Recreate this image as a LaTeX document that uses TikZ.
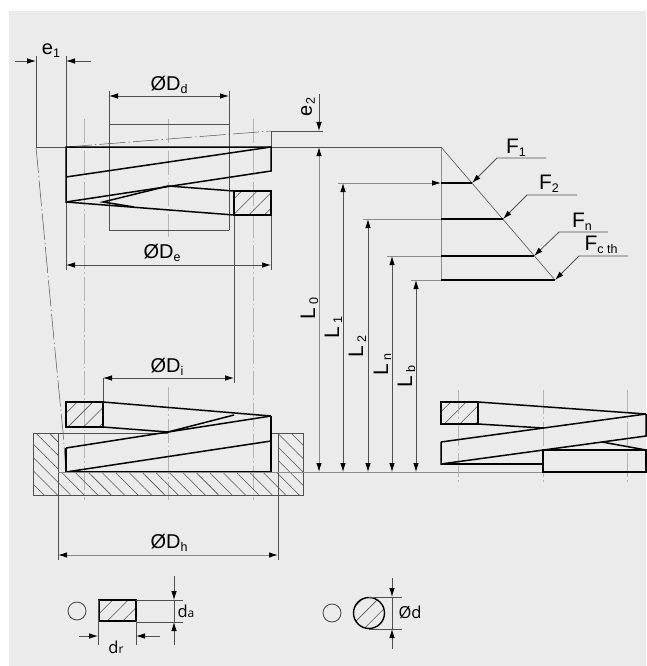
\documentclass[tikz,border=0pt]{standalone}
\usepackage{fontspec}
\setmainfont{Liberation Sans}
\newfontfamily\labelfont{Open Sans}
\usetikzlibrary{arrows.meta,patterns.meta}
\definecolor{sheet}{HTML}{EBEBEB}
\definecolor{dimgrey}{HTML}{8C8C8C}
\definecolor{thingrey}{HTML}{505050}
\definecolor{axisgrey}{HTML}{B4B4B4}
\newcommand{\lowidx}[1]{\raisebox{-3pt}{\fontsize{12.5}{13}\selectfont #1}}
\begin{document}
\begin{tikzpicture}[x=1pt, y=-1pt, line join=miter]
		\tikzset{coil/.style={draw=black, line width=1.5pt}};
		\tikzset{thin line/.style={draw=thingrey, line width=0.6pt}};
		\tikzset{dimline/.style={draw=dimgrey, line width=1pt}};
		\tikzset{tipped/.style={draw=thingrey, line width=0.8pt, arrows={-Latex[length=9pt, width=5.5pt, black]}}};
		\tikzset{axisline/.style={draw=axisgrey, line width=0.7pt, dash pattern=on 24pt off 3pt on 1.5pt off 3pt}};
		\tikzset{chain/.style={draw=thingrey, line width=0.5pt, dash pattern=on 26pt off 3pt on 1.5pt off 3pt}};
		\tikzset{hatchright/.style={pattern={Lines[angle=45, distance=11pt, line width=0.55pt]}, pattern color=thingrey}};
		\tikzset{hatchleft/.style={pattern={Lines[angle=135, distance=9.5pt, line width=0.55pt]}, pattern color=thingrey}};
		\tikzset{dimtext/.style={inner sep=0pt, font=\fontsize{20}{22}\selectfont}};
		\tikzset{forcetext/.style={inner sep=0pt, font=\fontsize{21}{23}\selectfont}};
		\tikzset{sidetext/.style={inner sep=0pt, rotate=90, anchor=base west, font=\fontsize{21}{23}\selectfont}};
		\tikzset{sectext/.style={inner sep=0pt, font=\labelfont\fontsize{16.5}{18}\selectfont}};

		\useasboundingbox (0, 0) rectangle (646, 666);
		\fill[sheet] (9, 11) rectangle (646, 666);

		\coordinate (e1l) at (36, 61);
		\coordinate (e1lfree) at (15, 61);
		\coordinate (e1r) at (66, 61);
		\coordinate (e1rfree) at (91, 61);
		\coordinate (top) at (36, 147);
		\coordinate (tl) at (66, 147);
		\coordinate (tr) at (271, 147);
		\coordinate (apex) at (441, 147);

		\draw[axisline] (84, 119) to (84, 500);
		\draw[axisline] (253, 119) to (253, 500);
		\draw[axisline] (168, 119) to (168, 237);
		\draw[axisline] (168, 387) to (168, 500);

		\draw[thin line] (36, 56) to (top);
		\draw[thin line] (66, 56) to (tl);
		\draw[thin line] (66, 202) to (66, 270);
		\draw[thin line] (271, 215) to (271, 270);
		\draw[thin line] (top) to (apex);
		\draw[thin line] (109, 91) to (109, 230);
		\draw[thin line] (229, 91) to (229, 230);
		\draw[thin line] (109, 124) to (229, 124);
		\draw[thin line] (109, 230) to (229, 230);
		\draw[thin line] (234, 215) to (234, 383);
		\draw[thin line] (103, 378) to (103, 402);
		\draw[chain] (top) to (54, 340) to (63, 432) to (66, 472);
		\draw[chain] (tl) to (271, 131);
		\draw[thin line] (271, 131) to (tr);
		\draw[thin line] (271, 131) to (323, 131);

		\draw[tipped] (e1lfree) to (e1l);
		\draw[tipped] (e1rfree) to (e1r);
		\draw[tipped] (168, 96) to (109, 96);
		\draw[tipped] (168, 96) to (229, 96);
		\draw[tipped] (168, 265) to (66, 265);
		\draw[tipped] (168, 265) to (271, 265);
		\draw[tipped] (168, 378) to (103, 378);
		\draw[tipped] (168, 378) to (234, 378);
		\draw[tipped, draw=dimgrey, line width=1pt] (168, 555) to (58, 555);
		\draw[tipped, draw=dimgrey, line width=1pt] (168, 555) to (278, 555);
		\draw[tipped] (319, 94) to (319, 131);

		\draw[hatchright] (234, 191) rectangle (271, 215);
		\draw[hatchright] (66, 402) rectangle (103, 427);
		\draw[hatchright] (441, 402) rectangle (478, 424);
		\draw[thin line, hatchleft] (33, 433) -- (58, 433) -- (58, 472) -- (278, 472) -- (278, 433) -- (303, 433) -- (303, 495) -- (33, 495) -- cycle;
		\draw[thin line] (58, 433) to (168, 433);
		\draw[thin line] (271, 433) to (278, 433);
		\draw[thin line] (58, 433) to (58, 560);
		\draw[thin line] (278, 433) to (278, 560);

		\draw[coil] (tl) -- (tr) -- (271, 171) -- (66, 202) -- cycle;
		\draw[coil] (66, 177) to (tr);
		\draw[coil] (66, 202) to (234, 215);
		\draw[coil] (134, 207) -- (103, 202) -- (168, 186) -- (234, 191);
		\draw[coil] (234, 191) rectangle (271, 215);

		\draw[coil] (66, 402) rectangle (103, 427);
		\draw[coil] (103, 402) to (271, 416);
		\draw[coil] (103, 427) -- (168, 432) -- (234, 415);
		\draw[coil] (66, 448) -- (168, 432) -- (271, 416);
		\draw[coil] (66, 448) -- (66, 472) -- (271, 472) -- (271, 416);
		\draw[coil] (66, 472) to (271, 441);

		\draw[dimline] (58, 472) to (646, 472);

		\draw[axisline] (458, 390) to (458, 483);
		\draw[axisline] (543, 390) to (543, 483);
		\draw[axisline] (627, 390) to (627, 483);
		\draw[coil] (441, 402) rectangle (478, 424);
		\draw[coil] (478, 402) to (646, 414);
		\draw[coil] (478, 424) to (543, 428);
		\draw[coil] (441, 442) to (646, 414);
		\draw[coil] (441, 442) -- (441, 464) -- (646, 436) -- (646, 414);
		\draw[coil] (441, 464) to (543, 464);
		\draw[coil] (543, 450) rectangle (646, 472);
		\draw[coil] (602, 442) to (646, 450);

		\draw[dimline, arrows={Latex[length=9pt, width=5.5pt, black]-Latex[length=9pt, width=5.5pt, black]}] (319, 147) to (319, 472);
		\draw[tipped] (343, 240) to (343, 183);
		\draw[tipped] (343, 240) to (343, 472);
		\draw[tipped] (368, 260) to (368, 219);
		\draw[tipped] (368, 260) to (368, 472);
		\draw[tipped] (392, 280) to (392, 256);
		\draw[tipped] (392, 280) to (392, 472);
		\draw[tipped] (416, 300) to (416, 280);
		\draw[tipped] (416, 300) to (416, 472);
		\draw[tipped, draw=dimgrey] (338, 183) to (441, 183);
		\draw[dimline] (363, 219) to (441, 219);
		\draw[dimline] (387, 256) to (441, 256);
		\draw[dimline] (411, 280) to (441, 280);
		\draw[dimline] (apex) to (441, 280);
		\draw[thin line] (apex) to (555, 280);
		\draw[coil] (441, 183) to (472, 183);
		\draw[coil] (441, 219) to (503, 219);
		\draw[coil] (441, 256) to (534, 256);
		\draw[coil] (441, 280) to (555, 280);

		\draw[tipped] (546, 158) -- (497, 158) -- (472, 183);
		\draw[tipped] (577, 195) -- (527, 195) -- (503, 219);
		\draw[tipped] (608, 232) -- (559, 232) -- (534, 256);
		\draw[tipped] (628, 256) -- (579, 256) -- (555, 280);

		\node[dimtext] (e1) at (51, 51) {e\lowidx{1}};
		\node[dimtext, rotate=90] (e2) at (308, 107) {e\lowidx{2}};
		\node[dimtext] (dd) at (169, 85) {ØD\lowidx{d}};
		\node[dimtext] (de) at (162, 253) {ØD\lowidx{e}};
		\node[dimtext] (di) at (167, 367) {ØD\lowidx{i}};
		\node[dimtext] (dh) at (169, 543) {ØD\lowidx{h}};
		\node[forcetext] (f1) at (516, 148) {F\lowidx{1}};
		\node[forcetext] (f2) at (549, 184) {F\lowidx{2}};
		\node[forcetext] (fn) at (582, 222) {F\lowidx{n}};
		\node[forcetext] (fc) at (601, 245) {F\lowidx{c th}};
		\node[sidetext] (l0) at (315, 320) {L\,\lowidx{0}};
		\node[sidetext] (l1) at (339, 339) {L\,\lowidx{1}};
		\node[sidetext] (l2) at (363, 358) {L\,\lowidx{2}};
		\node[sidetext] (ln) at (388, 376) {L\,\lowidx{n}};
		\node[sidetext] (lb) at (412, 388) {L\,\lowidx{b}};

		\node[circle, draw=black!75, line width=0.8pt, minimum size=18pt, inner sep=0pt] (sym1) at (77, 611) {};
		\node[circle, draw=black!75, line width=0.8pt, minimum size=18pt, inner sep=0pt] (sym2) at (332, 613) {};
		\node[circle, hatchright, draw=black, line width=1.4pt, minimum size=31pt, inner sep=0pt] (wire) at (369, 613) {};
		\draw[hatchright] (99, 600) rectangle (136, 621);
		\draw[coil, line width=1.2pt] (99, 600) rectangle (136, 621);

		\draw[thin line] (136, 600) to (183, 600);
		\draw[thin line] (136, 622) to (183, 622);
		\draw[thin line] (98, 600) to (98, 645);
		\draw[thin line] (136, 621) to (136, 645);
		\draw[thin line] (174, 600) to (174, 622);
		\draw[tipped] (174, 576) to (174, 600);
		\draw[tipped] (174, 645) to (174, 622);
		\draw[tipped] (79, 636) to (98, 636);
		\draw[tipped] (160, 636) to (136, 636);

		\draw[thin line] (369, 597) to (402, 597);
		\draw[thin line] (369, 629) to (402, 629);
		\draw[thin line] (392, 597) to (392, 629);
		\draw[tipped] (392, 578) to (392, 597);
		\draw[tipped] (392, 649) to (392, 629);

		\node[sectext] (da) at (186, 611) {d{\fontsize{12}{12}\selectfont a}};
		\node[sectext] (dr) at (116, 647) {d{\fontsize{12}{12}\selectfont r}};
		\node[sectext] (od) at (410, 612) {Ød};
\end{tikzpicture}
\end{document}
